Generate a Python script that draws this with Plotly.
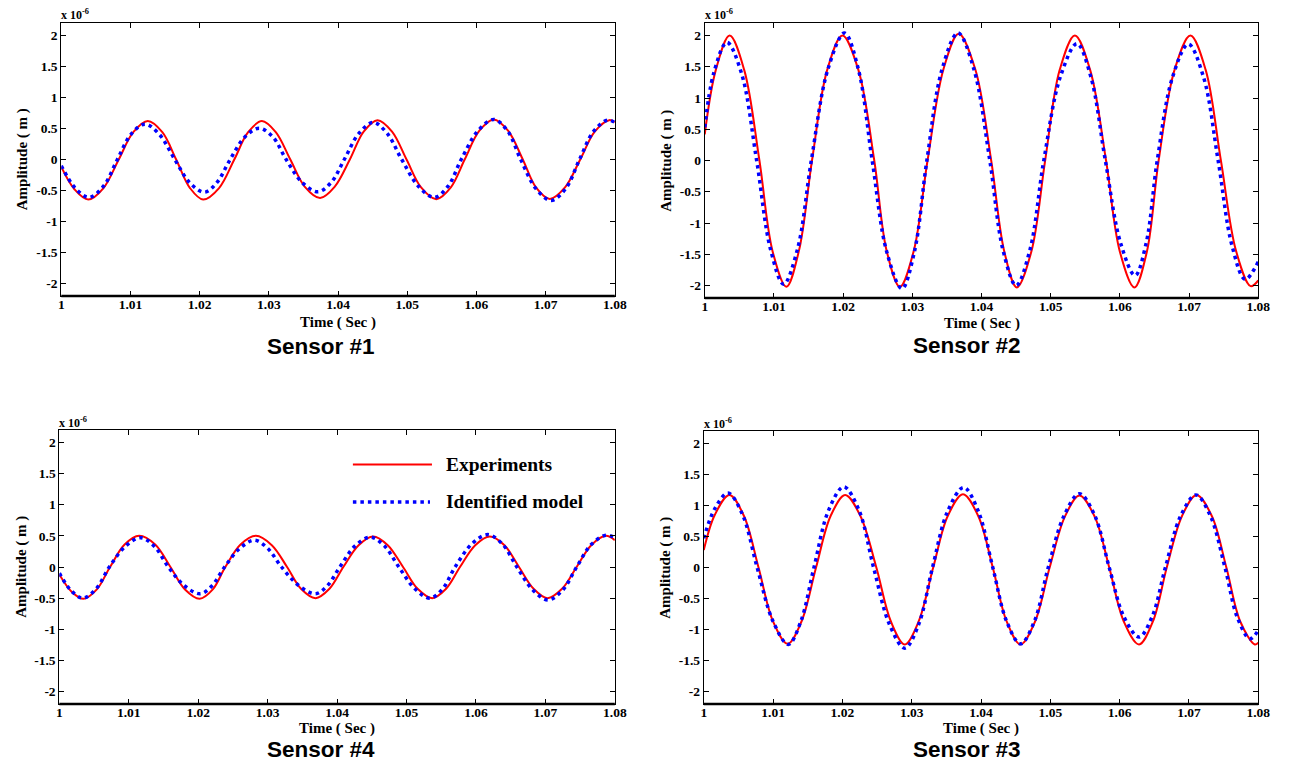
import plotly.graph_objects as go

W, H = 1292, 762

# ---- measured and identified responses (amplitude in 1e-6 m) ----
s1_exp_t = [1.0000, 1.0019, 1.0039, 1.0061, 1.0083, 1.0104, 1.0125, 1.0146, 1.0166, 1.0186,
            1.0205, 1.0228, 1.0250, 1.0270, 1.0290, 1.0310, 1.0331, 1.0352, 1.0374, 1.0395,
            1.0417, 1.0437, 1.0457, 1.0478, 1.0499, 1.0520, 1.0542, 1.0563, 1.0583, 1.0604,
            1.0625, 1.0646, 1.0667, 1.0686, 1.0706, 1.0728, 1.0750, 1.0771, 1.0792, 1.0800]
s1_exp_v = [-0.12, -0.48, -0.645, -0.46, 0.0, 0.44, 0.62, 0.44, 0.0, -0.46,
            -0.645, -0.46, 0.0, 0.44, 0.62, 0.44, 0.0, -0.44, -0.62, -0.44,
            0.0, 0.45, 0.634, 0.45, 0.0, -0.45, -0.64, -0.45, 0.0, 0.46,
            0.645, 0.46, 0.0, -0.45, -0.635, -0.45, 0.0, 0.45, 0.634, 0.60]
s1_mod_t = [1.0000, 1.0020, 1.0040, 1.0061, 1.0081, 1.0101, 1.0121, 1.0142, 1.0164, 1.0186,
            1.0207, 1.0225, 1.0244, 1.0265, 1.0286, 1.0306, 1.0325, 1.0348, 1.0371, 1.0390,
            1.0409, 1.0430, 1.0451, 1.0471, 1.0492, 1.0516, 1.0539, 1.0559, 1.0578, 1.0602,
            1.0625, 1.0645, 1.0664, 1.0686, 1.0708, 1.0729, 1.0749, 1.0769, 1.0789, 1.0800]
s1_mod_v = [-0.10, -0.46, -0.61, -0.43, 0.0, 0.41, 0.57, 0.40, 0.0, -0.38,
            -0.527, -0.37, 0.0, 0.36, 0.505, 0.36, 0.0, -0.37, -0.52, -0.37,
            0.0, 0.42, 0.597, 0.42, 0.0, -0.43, -0.61, -0.43, 0.0, 0.46,
            0.645, 0.46, 0.0, -0.47, -0.66, -0.47, 0.0, 0.45, 0.634, 0.60]

s2_exp_t = [1.0000, 1.0016, 1.0036, 1.0057, 1.0079, 1.0098, 1.0118, 1.0136, 1.0155, 1.0177,
            1.0199, 1.0222, 1.0245, 1.0263, 1.0282, 1.0302, 1.0322, 1.0345, 1.0367, 1.0391,
            1.0414, 1.0433, 1.0451, 1.0472, 1.0492, 1.0513, 1.0535, 1.0557, 1.0580, 1.0600,
            1.0621, 1.0639, 1.0656, 1.0679, 1.0702, 1.0724, 1.0746, 1.0768, 1.0789, 1.0800]
s2_exp_v = [0.42, 1.45, 2.0, 1.45, 0.0, -1.45, -2.02, -1.45, 0.0, 1.45,
            2.0, 1.45, 0.0, -1.45, -2.02, -1.45, 0.0, 1.46, 2.03, 1.46,
            0.0, -1.46, -2.03, -1.46, 0.0, 1.45, 2.0, 1.45, 0.0, -1.46,
            -2.03, -1.46, 0.0, 1.45, 2.0, 1.45, 0.0, -1.45, -2.01, -1.92]
s2_mod_t = [1.0000, 1.0013, 1.0032, 1.0053, 1.0075, 1.0095, 1.0114, 1.0134, 1.0154, 1.0178,
            1.0202, 1.0222, 1.0242, 1.0263, 1.0285, 1.0303, 1.0321, 1.0343, 1.0366, 1.0389,
            1.0412, 1.0431, 1.0450, 1.0470, 1.0490, 1.0514, 1.0538, 1.0558, 1.0579, 1.0601,
            1.0622, 1.0638, 1.0654, 1.0676, 1.0699, 1.0721, 1.0742, 1.0762, 1.0781, 1.0800]
s2_mod_v = [0.53, 1.40, 1.89, 1.40, 0.0, -1.42, -1.98, -1.42, 0.0, 1.46,
            2.04, 1.46, 0.0, -1.46, -2.05, -1.46, 0.0, 1.46, 2.04, 1.46,
            0.0, -1.43, -2.0, -1.43, 0.0, 1.34, 1.87, 1.34, 0.0, -1.32,
            -1.84, -1.32, 0.0, 1.33, 1.86, 1.33, 0.0, -1.36, -1.90, -1.62]

s3_exp_t = [1.0000, 1.0016, 1.0037, 1.0058, 1.0079, 1.0100, 1.0121, 1.0141, 1.0162, 1.0183,
            1.0204, 1.0226, 1.0249, 1.0270, 1.0290, 1.0310, 1.0331, 1.0352, 1.0374, 1.0396,
            1.0417, 1.0437, 1.0457, 1.0478, 1.0499, 1.0521, 1.0542, 1.0564, 1.0585, 1.0606,
            1.0628, 1.0648, 1.0668, 1.0690, 1.0711, 1.0733, 1.0754, 1.0774, 1.0795, 1.0800]
s3_exp_v = [0.28, 0.85, 1.17, 0.83, 0.0, -0.87, -1.23, -0.87, 0.0, 0.83,
            1.17, 0.83, 0.0, -0.87, -1.24, -0.87, 0.0, 0.83, 1.18, 0.83,
            0.0, -0.87, -1.24, -0.87, 0.0, 0.82, 1.16, 0.82, 0.0, -0.87,
            -1.24, -0.87, 0.0, 0.83, 1.17, 0.83, 0.0, -0.87, -1.24, -1.21]
s3_mod_t = [1.0000, 1.0016, 1.0035, 1.0056, 1.0077, 1.0100, 1.0122, 1.0140, 1.0159, 1.0180,
            1.0202, 1.0224, 1.0245, 1.0268, 1.0290, 1.0310, 1.0330, 1.0352, 1.0375, 1.0396,
            1.0417, 1.0437, 1.0457, 1.0477, 1.0497, 1.0520, 1.0542, 1.0564, 1.0585, 1.0606,
            1.0628, 1.0647, 1.0666, 1.0688, 1.0710, 1.0731, 1.0752, 1.0770, 1.0788, 1.0800]
s3_mod_v = [0.47, 0.95, 1.20, 0.85, 0.0, -0.87, -1.24, -0.87, 0.0, 0.92,
            1.30, 0.92, 0.0, -0.92, -1.30, -0.92, 0.0, 0.91, 1.29, 0.91,
            0.0, -0.87, -1.23, -0.87, 0.0, 0.84, 1.19, 0.84, 0.0, -0.79,
            -1.12, -0.79, 0.0, 0.83, 1.17, 0.83, 0.0, -0.81, -1.15, -1.01]

s4_exp_t = [1.0000, 1.0018, 1.0035, 1.0054, 1.0073, 1.0094, 1.0115, 1.0138, 1.0160, 1.0181,
            1.0202, 1.0221, 1.0239, 1.0261, 1.0283, 1.0306, 1.0328, 1.0348, 1.0369, 1.0389,
            1.0409, 1.0431, 1.0452, 1.0473, 1.0495, 1.0516, 1.0537, 1.0557, 1.0577, 1.0599,
            1.0620, 1.0641, 1.0662, 1.0683, 1.0703, 1.0724, 1.0745, 1.0766, 1.0787, 1.0800]
s4_exp_v = [-0.12, -0.40, -0.51, -0.36, 0.0, 0.36, 0.50, 0.36, 0.0, -0.36,
            -0.51, -0.36, 0.0, 0.36, 0.50, 0.35, 0.0, -0.35, -0.50, -0.35,
            0.0, 0.35, 0.49, 0.35, 0.0, -0.35, -0.50, -0.35, 0.0, 0.35,
            0.49, 0.35, 0.0, -0.35, -0.50, -0.35, 0.0, 0.35, 0.50, 0.43]
s4_mod_t = [1.0000, 1.0017, 1.0034, 1.0053, 1.0072, 1.0095, 1.0117, 1.0137, 1.0157, 1.0180,
            1.0203, 1.0220, 1.0238, 1.0260, 1.0281, 1.0300, 1.0320, 1.0345, 1.0369, 1.0386,
            1.0404, 1.0426, 1.0448, 1.0468, 1.0489, 1.0512, 1.0534, 1.0552, 1.0570, 1.0594,
            1.0617, 1.0638, 1.0659, 1.0682, 1.0704, 1.0725, 1.0745, 1.0766, 1.0787, 1.0800]
s4_mod_v = [-0.10, -0.38, -0.50, -0.35, 0.0, 0.33, 0.47, 0.33, 0.0, -0.30,
            -0.43, -0.30, 0.0, 0.30, 0.43, 0.30, 0.0, -0.30, -0.43, -0.30,
            0.0, 0.34, 0.48, 0.34, 0.0, -0.35, -0.50, -0.35, 0.0, 0.37,
            0.52, 0.37, 0.0, -0.37, -0.53, -0.37, 0.0, 0.36, 0.51, 0.47]

x_ticks = [1.00, 1.01, 1.02, 1.03, 1.04, 1.05, 1.06, 1.07, 1.08]
x_labels = ["1", "1.01", "1.02", "1.03", "1.04", "1.05", "1.06", "1.07", "1.08"]
y_ticks = [-2, -1.5, -1, -0.5, 0, 0.5, 1, 1.5, 2]
y_labels = ["-2", "-1.5", "-1", "-0.5", "0", "0.5", "1", "1.5", "2"]

series_names = ["Experiments", "Identified model"]
sensor_titles = ["Sensor #1", "Sensor #2", "Sensor #3", "Sensor #4"]

RED = "#ff0000"
BLUE = "#0000ff"
SERIF = "Liberation Serif"
SANS = "Liberation Sans"


def fx(p):
    return p / W


def fy(p):
    return 1 - p / H


# panel frames in pixels: (left, right, top, bottom), time-title offset, caption position
panels = [
    dict(data=(s1_exp_t, s1_exp_v, s1_mod_t, s1_mod_v), box=(59, 619, 23, 296), tgap=26,
         title=sensor_titles[0], tpos=(322, 346)),
    dict(data=(s2_exp_t, s2_exp_v, s2_mod_t, s2_mod_v), box=(710, 1270, 23, 298), tgap=25,
         title=sensor_titles[1], tpos=(975, 345)),
    dict(data=(s4_exp_t, s4_exp_v, s4_mod_t, s4_mod_v), box=(57, 619, 430, 704), tgap=24,
         title=sensor_titles[3], tpos=(322, 749.5)),
    dict(data=(s3_exp_t, s3_exp_v, s3_mod_t, s3_mod_v), box=(709, 1270, 431, 704), tgap=24,
         title=sensor_titles[2], tpos=(975, 749.5)),
]

fig = go.Figure()
layout = dict(
    width=W, height=H, autosize=False,
    margin=dict(l=0, r=0, t=0, b=0),
    paper_bgcolor="white", plot_bgcolor="white",
    showlegend=False,
)
annotations = []
shapes = []

tick_font = dict(family=SERIF, size=13.5, color="black", weight="bold")
label_font = dict(family=SERIF, size=15, color="black", weight="bold")

for k, p in enumerate(panels, start=1):
    et, ev, mt, mv = p["data"]
    l, r, t, b = p["box"]
    xa = "x" if k == 1 else f"x{k}"
    ya = "y" if k == 1 else f"y{k}"

    fig.add_trace(go.Scatter(
        x=et, y=ev, mode="lines", name=series_names[0],
        line=dict(color=RED, width=2, shape="spline", smoothing=1.0),
        xaxis=xa, yaxis=ya, hoverinfo="skip"))
    fig.add_trace(go.Scatter(
        x=mt, y=mv, mode="lines", name=series_names[1],
        line=dict(color=BLUE, width=3.5, dash="3.5px,4px", shape="spline", smoothing=1.0),
        xaxis=xa, yaxis=ya, hoverinfo="skip"))

    common = dict(showgrid=False, zeroline=False, showline=True, linecolor="black",
                  linewidth=1, mirror="ticks", ticks="inside", ticklen=5,
                  tickcolor="black", tickwidth=1, tickfont=tick_font)
    layout["xaxis" if k == 1 else f"xaxis{k}"] = dict(
        common, domain=[fx(l), fx(r)], range=[1.0, 1.08], anchor=ya,
        tickmode="array", tickvals=x_ticks, ticktext=x_labels, ticklabelstandoff=-4)
    layout["yaxis" if k == 1 else f"yaxis{k}"] = dict(
        common, domain=[fy(b), fy(t)], range=[-2.2, 2.2], anchor=xa,
        tickmode="array", tickvals=y_ticks, ticktext=y_labels)

    # heavier bottom axis line
    shapes.append(dict(type="line", xref=f"{xa} domain", yref=f"{ya} domain",
                       x0=0, x1=1, y0=0, y1=0, line=dict(color="black", width=2.5)))

    # axis titles, scale factor and sensor caption
    annotations.append(dict(text="Time ( Sec )", xref="paper", yref="paper",
                            x=fx((l + r) / 2), y=fy(b + p["tgap"]), xanchor="center",
                            yanchor="middle", showarrow=False, font=label_font,
                            borderpad=0))
    annotations.append(dict(text="Amplitude ( m )", xref="paper", yref="paper",
                            x=fx(l - 39), y=fy((t + b) / 2), xanchor="center",
                            yanchor="middle", textangle=-90, showarrow=False,
                            font=label_font))
    annotations.append(dict(text="x 10<sup>-6</sup>", xref="paper", yref="paper",
                            x=fx(l - 2), y=fy(t - 8), xanchor="left", yanchor="middle",
                            showarrow=False,
                            font=dict(family=SERIF, size=12, color="black", weight="bold")))
    annotations.append(dict(text=p["title"], xref="paper", yref="paper",
                            x=fx(p["tpos"][0]), y=fy(p["tpos"][1]), xanchor="center",
                            yanchor="middle", showarrow=False, borderpad=0,
                            font=dict(family=SANS, size=22.5, color="black", weight="bold")))

# key for the two curves, placed inside the Sensor #4 panel
legend_font = dict(family=SERIF, size=19.5, color="black", weight="bold")
shapes.append(dict(type="line", xref="paper", yref="paper",
                   x0=fx(354), x1=fx(434), y0=fy(464.5), y1=fy(464.5),
                   line=dict(color=RED, width=2)))
shapes.append(dict(type="line", xref="paper", yref="paper",
                   x0=fx(354), x1=fx(432), y0=fy(502), y1=fy(502),
                   line=dict(color=BLUE, width=3.5, dash="3.5px,4px")))
annotations.append(dict(text=series_names[0], xref="paper", yref="paper",
                        x=fx(446), y=fy(464), xanchor="left", yanchor="middle",
                        showarrow=False, font=legend_font))
annotations.append(dict(text=series_names[1], xref="paper", yref="paper",
                        x=fx(446), y=fy(501), xanchor="left", yanchor="middle",
                        showarrow=False, font=legend_font))

layout["annotations"] = annotations
layout["shapes"] = shapes
fig.update_layout(**layout)

fig.write_html("out.html")
